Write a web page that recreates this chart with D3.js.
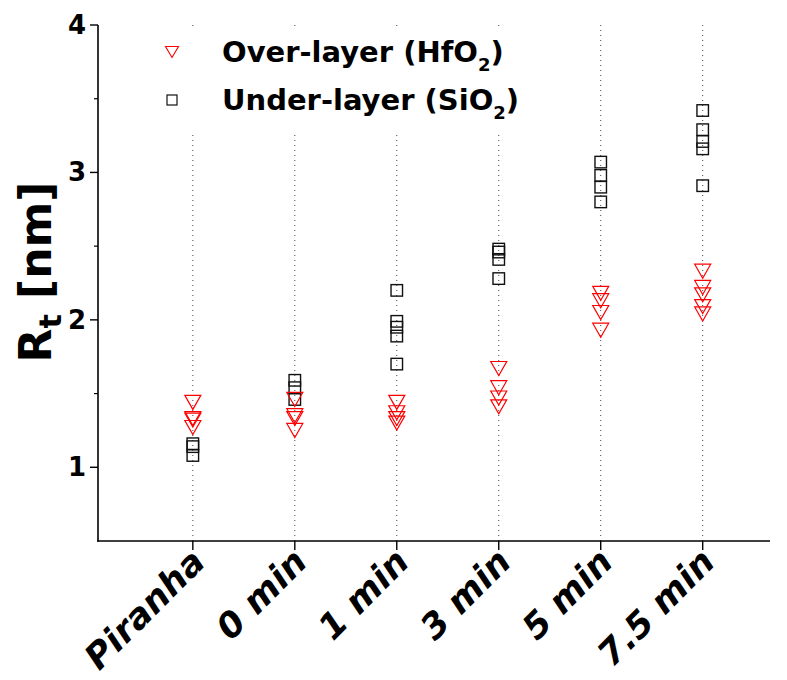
<!DOCTYPE html>
<html>
<head>
<meta charset="utf-8">
<script src="https://cdn.jsdelivr.net/npm/d3@7"></script>
<style>
  body { margin: 0; background: #fff; }
  text { font-family: "DejaVu Sans", Verdana, sans-serif; font-weight: bold; }
</style>
</head>
<body>
<svg id="chart" width="787" height="680"></svg>
<script>
// categories and measured values (Rt in nm)
const categories = ["Piranha", "0 min", "1 min", "3 min", "5 min", "7.5 min"];
const overLayer = [
    [1.44, 1.33, 1.32, 1.27],
    [1.46, 1.35, 1.33, 1.25],
    [1.44, 1.37, 1.33, 1.30],
    [1.67, 1.54, 1.47, 1.41],
    [2.18, 2.13, 2.05, 1.93],
    [2.33, 2.22, 2.17, 2.09, 2.04]
];
const underLayer = [
    [1.16, 1.14, 1.08],
    [1.59, 1.54, 1.46],
    [2.20, 1.99, 1.95, 1.89, 1.70],
    [2.48, 2.46, 2.41, 2.28],
    [3.07, 2.98, 2.90, 2.80],
    [3.42, 3.29, 3.21, 3.16, 2.91]
];
const yTicks = [1, 2, 3, 4];
const yMinorTicks = [1.5, 2.5, 3.5];

const svg = d3.select('#chart');
const plotLeft = 98, plotRight = 770, plotTop = 25, plotBottom = 541;

const x = d3.scaleLinear().domain([-0.93, 5.66]).range([plotLeft, plotRight]);
const y = d3.scaleLinear().domain([0.5, 4]).range([plotBottom, plotTop]);

// flatten data into points
const overPts = [];
overLayer.forEach((vals, i) => vals.forEach(v => overPts.push({ i, v })));
const underPts = [];
underLayer.forEach((vals, i) => vals.forEach(v => underPts.push({ i, v })));

// dotted vertical guide lines
svg.append('g').selectAll('line')
    .data(categories)
    .enter()
    .append('line')
    .attr('x1', (d, i) => x(i)).attr('x2', (d, i) => x(i))
    .attr('y1', y(4)).attr('y2', plotBottom)
    .attr('stroke', '#444')
    .attr('stroke-width', 1)
    .attr('stroke-dasharray', '1,4');

// legend background hides the guide lines behind it
svg.append('rect')
    .attr('x', 140).attr('y', plotTop + 1)
    .attr('width', 410).attr('height', 106)
    .attr('fill', '#fff');

// squares (under-layer)
const sq = 11.5;
svg.append('g').selectAll('rect')
    .data(underPts)
    .enter()
    .append('rect')
    .attr('x', d => x(d.i) - sq / 2)
    .attr('y', d => y(d.v) - sq / 2)
    .attr('width', sq).attr('height', sq)
    .attr('fill', 'none')
    .attr('stroke', '#111')
    .attr('stroke-width', 1.4);

// down triangles (over-layer)
const triW = 16, triH = 14;
const triPath = (cx, cy, w, h) =>
    `M${cx - w / 2},${cy - h / 2}L${cx + w / 2},${cy - h / 2}L${cx},${cy + h / 2}Z`;
svg.append('g').selectAll('path')
    .data(overPts)
    .enter()
    .append('path')
    .attr('d', d => triPath(x(d.i), y(d.v), triW, triH))
    .attr('fill', 'none')
    .attr('stroke', '#ff0000')
    .attr('stroke-width', 1.2);

// axes lines
svg.append('line')
    .attr('x1', plotLeft).attr('x2', plotLeft)
    .attr('y1', plotTop).attr('y2', plotBottom + 0.5)
    .attr('stroke', '#000').attr('stroke-width', 1.6);
svg.append('line')
    .attr('x1', plotLeft - 1).attr('x2', plotRight)
    .attr('y1', plotBottom).attr('y2', plotBottom)
    .attr('stroke', '#000').attr('stroke-width', 1.6);

// y ticks
svg.append('g').selectAll('line.major')
    .data(yTicks).enter().append('line')
    .attr('x1', plotLeft - 8).attr('x2', plotLeft)
    .attr('y1', d => y(d)).attr('y2', d => y(d))
    .attr('stroke', '#000').attr('stroke-width', 1.4);
svg.append('g').selectAll('line.minor')
    .data(yMinorTicks).enter().append('line')
    .attr('x1', plotLeft - 4).attr('x2', plotLeft)
    .attr('y1', d => y(d)).attr('y2', d => y(d))
    .attr('stroke', '#000').attr('stroke-width', 1.2);
svg.append('g').selectAll('text')
    .data(yTicks).enter().append('text')
    .attr('x', plotLeft - 12)
    .attr('y', d => y(d) + 9)
    .attr('text-anchor', 'end')
    .attr('font-size', 26)
    .text(d => d);

// x ticks and rotated labels
svg.append('g').selectAll('line')
    .data(categories).enter().append('line')
    .attr('x1', (d, i) => x(i)).attr('x2', (d, i) => x(i))
    .attr('y1', plotBottom).attr('y2', plotBottom + 9)
    .attr('stroke', '#000').attr('stroke-width', 1.4);
svg.append('g').selectAll('text')
    .data(categories).enter().append('text')
    .attr('text-anchor', 'end')
    .attr('font-size', 35)
    .attr('font-style', 'italic')
    .attr('transform', (d, i) => `translate(${x(i) + 14},${plotBottom + 23}) rotate(-45)`)
    .text(d => d);

// y axis title
const yTitle = svg.append('text')
    .attr('transform', `translate(51,272) rotate(-90)`)
    .attr('text-anchor', 'middle')
    .attr('font-size', 44);
yTitle.append('tspan').text('R');
yTitle.append('tspan').attr('font-size', 30).attr('dy', 10).text('t');
yTitle.append('tspan').attr('dy', -10).text(' [nm]');

// legend
const legend = svg.append('g');
legend.append('path')
    .attr('d', triPath(172, 52, 13, 11))
    .attr('fill', 'none')
    .attr('stroke', '#ff0000')
    .attr('stroke-width', 1.1);
legend.append('rect')
    .attr('x', 167).attr('y', 95).attr('width', 10).attr('height', 10)
    .attr('fill', 'none').attr('stroke', '#111').attr('stroke-width', 1.2);

const l1 = legend.append('text').attr('x', 222).attr('y', 62).attr('font-size', 29);
l1.append('tspan').text('Over-layer (HfO');
l1.append('tspan').attr('font-size', 18).attr('dy', 9).text('2');
l1.append('tspan').attr('dy', -9).text(')');
const l2 = legend.append('text').attr('x', 222).attr('y', 110).attr('font-size', 29);
l2.append('tspan').text('Under-layer (SiO');
l2.append('tspan').attr('font-size', 18).attr('dy', 9).text('2');
l2.append('tspan').attr('dy', -9).text(')');
</script>
</body>
</html>
